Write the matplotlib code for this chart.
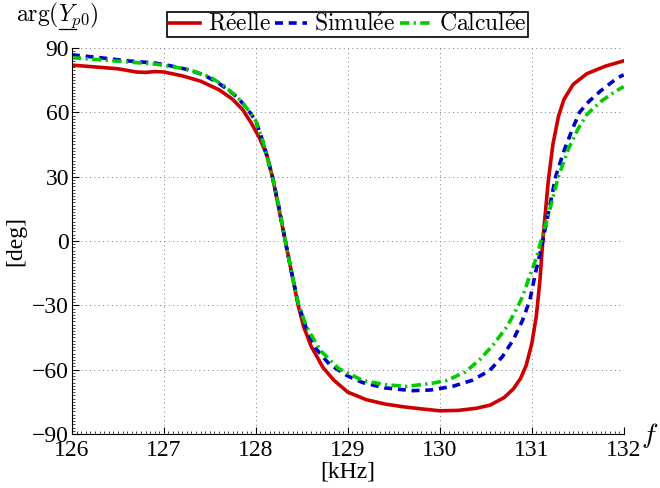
import matplotlib
matplotlib.use('Agg')
import matplotlib.pyplot as plt
from matplotlib.ticker import AutoMinorLocator
from matplotlib.lines import Line2D
import numpy as np

# frequency [kHz] and phase [deg]
f_reel = [126.0, 126.3, 126.5, 126.7, 126.8, 126.9, 127.0, 127.2, 127.4, 127.6,
          127.75, 127.86, 127.95, 128.04, 128.12, 128.18, 128.25, 128.32, 128.39,
          128.46, 128.52, 128.6, 128.73, 128.85, 129.0, 129.2, 129.4, 129.6, 129.8,
          130.0, 130.2, 130.4, 130.55, 130.7, 130.8, 130.88, 130.94, 131.0, 131.05,
          131.09, 131.12, 131.15, 131.18, 131.23, 131.29, 131.35, 131.45, 131.6,
          131.8, 132.0]
y_reel = [82, 81, 80.3, 78.8, 78.6, 79, 78.8, 77, 74.5, 70.5,
          66, 61, 55, 48, 40, 30, 15, 0, -15,
          -30, -40, -49, -59, -65, -70.5, -74, -76, -77.3, -78.3,
          -79.2, -79, -78, -76.5, -73, -69, -64, -58, -48, -35,
          -18, 0, 14, 28, 45, 58, 66, 73, 78,
          81.5, 84]

f_simu = [126.0, 126.3, 126.6, 126.9, 127.07, 127.25, 127.43, 127.58, 127.68, 127.8,
          127.9, 128.0, 128.08, 128.18, 128.25, 128.32, 128.39, 128.46, 128.55,
          128.65, 128.8, 129.0, 129.16, 129.4, 129.7, 129.9, 130.14, 130.35, 130.54,
          130.68, 130.8, 130.9, 130.98, 131.04, 131.12, 131.19, 131.26, 131.35,
          131.45, 131.52, 131.62, 131.75, 131.93, 132.0]
y_simu = [86.8, 85.5, 84, 83, 81.7, 80, 77.5, 74, 71, 67,
          62, 56, 46, 30, 16, 0, -15, -29, -41,
          -50, -57.5, -63, -66, -68.5, -69.8, -69.5, -67.8, -65, -60.5,
          -54, -46, -37, -27.5, -15, 0, 15, 30, 42,
          53, 60, 65, 70, 76, 77.5]

f_calc = [126.0, 126.3, 126.6, 126.9, 127.1, 127.3, 127.5, 127.65, 127.8, 127.9,
          128.0, 128.08, 128.18, 128.25, 128.32, 128.39, 128.46, 128.55, 128.7,
          128.9, 129.16, 129.4, 129.64, 129.9, 130.08, 130.28, 130.43, 130.58,
          130.73, 130.82, 130.9, 130.98, 131.05, 131.1, 131.18, 131.29, 131.4,
          131.5, 131.6, 131.75, 131.9, 132.0]
y_calc = [85.5, 84.5, 83.5, 82.5, 81.3, 79.5, 76.5, 72.5, 67, 62,
          56, 46, 30, 16, 0, -15, -29, -40, -51,
          -59.5, -65, -67, -67.8, -66.5, -65, -61, -55.5, -48.5,
          -40, -33, -26, -16, -8, 0, 12, 30, 43,
          52, 59, 65, 69.5, 72]

xticks = [126, 127, 128, 129, 130, 131, 132]
yticks = [-90, -60, -30, 0, 30, 60, 90]

plt.rcParams['font.family'] = ['Liberation Serif', 'DejaVu Serif']
plt.rcParams['mathtext.fontset'] = 'cm'

fig = plt.figure(figsize=(6.6, 4.88), dpi=100)
ax = fig.add_axes([0.109, 0.1107, 0.836, 0.791])

ax.plot(f_reel, y_reel, color='#cc0000', lw=2.6, ls='-', label=r'$\mathrm{R\acute{e}elle}$')
ax.plot(f_simu, y_simu, color='#0000cc', lw=2.6, ls=(0, (2.2, 1.6)), label=r'$\mathrm{Simul\acute{e}e}$')
ax.plot(f_calc, y_calc, color='#00cc00', lw=2.6, ls=(0, (2.6, 1.2, 0.6, 1.2)), label=r'$\mathrm{Calcul\acute{e}e}$')

ax.set_xlim(126, 132)
ax.set_ylim(-90, 90)
ax.set_xticks(xticks)
ax.set_yticks(yticks)
ax.set_yticklabels([str(v).replace('-', '\u2212') for v in yticks])
ax.xaxis.set_minor_locator(AutoMinorLocator(20))
ax.yaxis.set_minor_locator(AutoMinorLocator(20))
ax.tick_params(which='both', direction='in', top=False, right=False, labelsize=17, pad=2)
ax.tick_params(axis='x', which='major', pad=4)
ax.tick_params(which='major', length=5, width=0.8)
ax.tick_params(which='minor', length=2.5, width=0.5)

ax.spines['top'].set_visible(False)
ax.spines['right'].set_visible(False)
ax.grid(True, which='major', ls=(0, (1, 3.5)), color='#7a7a7a', lw=0.7)

ax.set_xlabel('[kHz]', fontsize=17, labelpad=1)
ax.set_ylabel('[deg]', fontsize=17, labelpad=4)

fig.text(650 / 660, (488 - 436) / 488, r'$f$', fontsize=20, ha='center', va='center')
fig.text(16 / 660, (488 - 15) / 488, r'$\mathrm{arg}(Y_{p0})$', fontsize=17, ha='left', va='center')
# underline under Y
fig.add_artist(Line2D([59 / 660, 76 / 660], [(488 - 29) / 488] * 2, color='black', lw=0.9))

leg = ax.legend(loc='lower center', bbox_to_anchor=(0.5, 1.028), ncol=3, fontsize=17,
                frameon=True, fancybox=False, edgecolor='black', framealpha=1,
                handlelength=1.35, handletextpad=0.3, columnspacing=0.2,
                borderpad=0.05, borderaxespad=0.0)
leg.get_frame().set_linewidth(1.2)

fig.savefig('out.png', dpi=100)
